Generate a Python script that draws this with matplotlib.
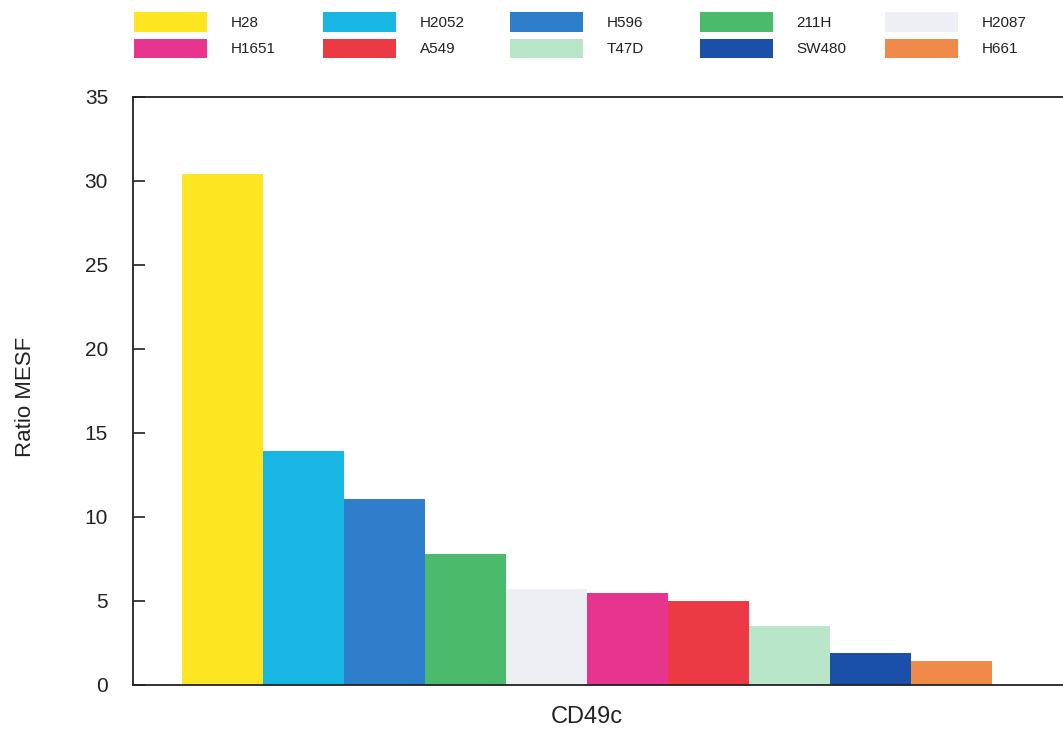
import matplotlib
matplotlib.use("Agg")
import matplotlib.pyplot as plt
from matplotlib.patches import Patch

plt.rcParams['font.family'] = ['Liberation Sans', 'DejaVu Sans']

cell_lines = ["H28", "H2052", "H596", "211H", "H2087", "H1651", "A549", "T47D", "SW480", "H661"]
values = [30.4, 13.9, 11.1, 7.8, 5.7, 5.5, 5.0, 3.5, 1.9, 1.4]
colors = ["#FDE521", "#18B6E2", "#2F7ECC", "#4CBA6C", "#EDEFF4",
          "#E7358F", "#EC3A44", "#B9E5C9", "#1A50A8", "#F08A48"]
yticks = [0, 5, 10, 15, 20, 25, 30, 35]
group_label = "CD49c"
y_label = "Ratio MESF"

W, H = 1063, 733
fig = plt.figure(figsize=(W / 100, H / 100), dpi=100)
ax = fig.add_axes([133 / W, (H - 685) / H, (W - 133) / W, (685 - 97) / H])

x = list(range(len(values)))
ax.bar(x, values, width=1.0, color=colors, edgecolor='none')

ax.set_xlim(-1.105, 10.38)
ax.set_ylim(0, 35)
ax.set_yticks(yticks)
ax.set_xticks([])
ax.spines['right'].set_visible(False)
for s in ['left', 'bottom', 'top']:
    ax.spines[s].set_linewidth(1.3)
    ax.spines[s].set_color('#222222')
ax.tick_params(axis='y', direction='in', length=8.5, width=1.2, labelsize=15,
               pad=18, colors='#222222')

ax.set_xlabel(group_label, fontsize=17, color='#222222')
ax.xaxis.set_label_coords((587 - 133) / (W - 133), -0.036)
ax.set_ylabel(y_label, fontsize=16, color='#222222')
ax.yaxis.set_label_coords(-0.104, 0.49)

# legend: 5 columns x 2 rows
col_x = [134, 323, 510, 700, 885]
order_rows = [[0, 1, 2, 3, 4], [5, 6, 7, 8, 9]]
for c in range(5):
    idxs = [order_rows[0][c], order_rows[1][c]]
    handles = [Patch(facecolor=colors[i], edgecolor='none') for i in idxs]
    labels = [cell_lines[i] for i in idxs]
    fig.legend(handles, labels, loc='upper left',
               bbox_to_anchor=(col_x[c] / W, 1 - 12 / H),
               frameon=False, fontsize=11, handlelength=4.77, handleheight=1.6,
               handletextpad=1.55, labelspacing=0.45, borderpad=0, borderaxespad=0,
               labelcolor='#222222')

fig.savefig("out.png", dpi=100)
